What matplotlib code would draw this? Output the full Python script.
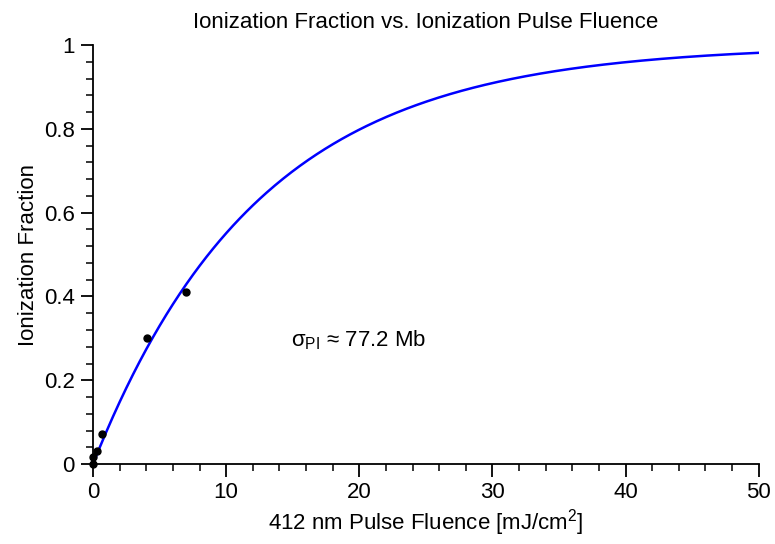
import numpy as np
import matplotlib
matplotlib.use("Agg")
import matplotlib.pyplot as plt
from matplotlib.ticker import MultipleLocator

# measured points (fluence in mJ/cm^2, ionization fraction)
fluence = [0.0, 0.0, 0.27, 0.68, 4.08, 6.98]
fraction = [0.0, 0.017, 0.031, 0.071, 0.301, 0.41]

# fitted photoionization cross section
sigma_mb = 77.2
wavelength_nm = 412.0

plt.rcParams["font.family"] = ["Liberation Sans", "DejaVu Sans"]
plt.rcParams["mathtext.fontset"] = "custom"
plt.rcParams["mathtext.rm"] = "Liberation Sans"
plt.rcParams["mathtext.it"] = "Liberation Sans:italic"

# saturation fluence from the cross section: F_sat = 2 h nu / sigma
photon_energy = 6.626e-34 * 2.998e8 / (wavelength_nm * 1e-9)  # J
f_sat = 2 * photon_energy / (sigma_mb * 1e-18) * 1e3  # mJ/cm^2
f_fit = np.linspace(0, 50, 400)
y_fit = 1 - np.exp(-f_fit / f_sat)

fig = plt.figure(figsize=(7.75, 5.44), dpi=100)
ax = fig.add_axes([0.12, 0.147, 0.859, 0.77])

ax.plot(f_fit, y_fit, color="#0000ff", lw=1.8, zorder=2)
ax.plot(fluence, fraction, "o", color="black", ms=5, zorder=3, clip_on=False)

ax.set_xlim(0, 50)
ax.set_ylim(0, 1)
ax.xaxis.set_major_locator(MultipleLocator(10))
ax.xaxis.set_minor_locator(MultipleLocator(2))
ax.yaxis.set_minor_locator(MultipleLocator(0.04))
ax.set_yticks([0, 0.2, 0.4, 0.6, 0.8, 1.0])
ax.set_yticklabels(["0", "0.2", "0.4", "0.6", "0.8", "1"])

for s in ["top", "right"]:
    ax.spines[s].set_visible(False)
for s in ["left", "bottom"]:
    ax.spines[s].set_linewidth(1.3)

fs = 16
ax.tick_params(which="major", direction="out", length=9, width=1.3,
               labelsize=fs, pad=4)
ax.tick_params(which="minor", direction="out", length=5, width=1.1)

ax.set_xlabel("412 nm Pulse Fluence [mJ/cm$^2$]", fontsize=fs, labelpad=3)
ax.set_ylabel("Ionization Fraction", fontsize=fs, labelpad=4)
ax.set_title("Ionization Fraction vs. Ionization Pulse Fluence",
             fontsize=fs, pad=12)

ax.text(14.9, 0.296, "σ$_{\\mathrm{PI}}$ ≈ 77.2 Mb", fontsize=fs,
        va="center", ha="left")

fig.savefig("out.png", dpi=100)
